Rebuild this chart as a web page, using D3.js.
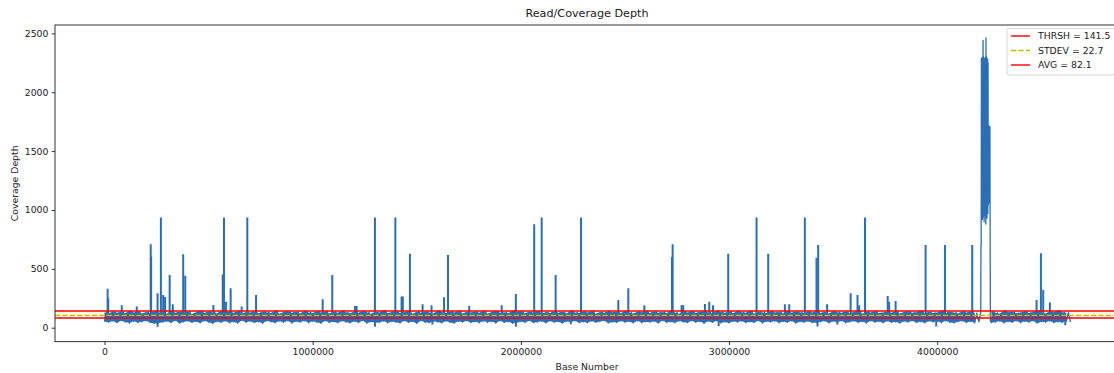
<!DOCTYPE html>
<html>
<head>
<meta charset="utf-8">
<script src="https://cdn.jsdelivr.net/npm/d3@7"></script>
<style>
  html, body { margin: 0; padding: 0; background: #fff; }
  svg { display: block; }
  text { font-family: "DejaVu Sans", sans-serif; fill: #222; }
</style>
</head>
<body>
<svg id="chart" width="1114" height="373"></svg>
<script>
// ---------------- DATA ----------------
const chartTitle = "Read/Coverage Depth";
const xLabel = "Base Number";
const yLabel = "Coverage Depth";

// background coverage, one reading every 10 kb (alternating troughs / crests of the dense band)
const baseStep = 10000;
const baseDepth = [
  52,131,46,118,57,140,41,126,60,135,48,122,39,143,55,129,44,137,50,120,
  58,134,43,125,36,141,40,128,47,133,54,119,42,146,61,127,38,136,49,123,
  56,139,45,117,52,132,40,144,59,124,47,138,35,129,53,121,44,147,57,130,
  41,136,50,126,38,142,62,119,46,134,55,128,43,140,51,122,37,137,58,131,
  49,125,42,145,56,118,45,133,60,139,39,127,53,135,47,121,58,143,41,130,
  54,124,46,138,37,129,59,142,44,120,51,136,42,127,57,144,48,131,40,123,
  55,137,43,126,61,141,38,132,50,119,42,135,45,128,56,146,41,122,52,134,
  47,139,39,125,58,131,44,143,53,118,36,136,60,127,46,140,42,129,55,121,
  49,145,40,133,57,124,45,138,38,130,54,142,47,120,59,135,43,128,51,137,
  41,126,56,144,46,119,52,134,39,141,58,127,44,132,50,123,37,146,43,131,
  53,139,45,122,60,136,42,129,48,143,55,118,40,133,57,125,46,140,51,127,
  38,135,54,121,47,145,59,130,43,124,50,138,41,128,56,142,45,119,52,134,
  60,126,39,141,49,132,44,137,57,123,46,144,53,129,40,120,58,136,42,131,
  51,143,47,125,55,139,38,127,61,134,44,122,50,146,41,130,56,118,48,137,
  43,128,59,141,46,124,52,135,37,140,55,129,45,121,58,144,40,133,49,126,
  40,138,54,123,47,142,57,131,42,127,50,145,44,119,60,136,39,130,53,124,
  48,141,56,128,41,134,52,120,45,143,58,126,38,137,51,132,46,122,55,139,
  43,129,44,146,50,125,57,135,40,121,54,140,47,131,59,127,42,138,49,123,
  56,133,44,144,52,119,39,136,58,128,46,141,53,124,41,130,57,137,45,126,
  50,142,38,120,55,134,47,139,60,127,43,131,52,145,40,122,56,136,48,125,
  54,129,42,143,58,125,46,135,39,130,51,121,57,140,44,128,53,137,41,124,
  49,138,55,127,60,133,43,141,48,126,56,119,40,144,52,131,45,136,58,123,
  42,129,54,139,47,125,59,134,38,142,51,128,46,120,57,137,43,131,50,145,
  44,132,55,127,48
];

// isolated high-coverage peaks
const spikePos = [
  15000, 18000, 83000, 155000, 222000, 224000, 255000, 271000, 282000, 291000,
  313000, 328000, 378000, 388000, 523000, 568000, 574000, 584000, 606000, 659000,
  686000, 728000, 1048000, 1094000, 1203000, 1211000, 1299000, 1397000, 1427000, 1433000,
  1467000, 1528000, 1571000, 1631000, 1650000, 1752000, 1908000, 1976000, 2064000, 2100000,
  2167000, 2289000, 2468000, 2516000, 2593000, 2726000, 2729000, 2772000, 2780000, 2884000,
  2905000, 2923000, 2996000, 3132000, 3188000, 3268000, 3289000, 3364000, 3420000, 3428000,
  3471000, 3584000, 3617000, 3625000, 3653000, 3762000, 3769000, 3800000, 3944000, 4037000,
  4168000, 4477000, 4498000, 4509000, 4541000
];
const spikeDepth = [
  330, 250, 190, 180, 709, 604, 292, 935, 278, 260,
  448, 199, 624, 442, 193, 454, 935, 221, 335, 180,
  935, 278, 241, 448, 185, 185, 935, 935, 264, 264,
  627, 199, 190, 259, 618, 187, 190, 287, 879, 935,
  448, 935, 235, 335, 190, 600, 709, 193, 190, 201,
  221, 190, 627, 935, 627, 200, 200, 935, 595, 703,
  200, 292, 278, 190, 935, 270, 221, 227, 703, 703,
  703, 235, 632, 320, 213
];

// isolated low-coverage dips
const dipPos = [255000, 1299000, 1976000, 2950000, 3425000, 3995000, 4615000, 1575000, 2240000, 3520000];
const dipDepth = [8, 8, 8, 15, 10, 10, 20, 28, 30, 27];

// amplified region near 4.2 Mb
const blockPos = [
  4209000, 4210000, 4211000, 4212000, 4213000, 4214000, 4215000, 4216000, 4217000, 4218000,
  4219000, 4220000, 4221000, 4222000, 4223000, 4224000, 4225000, 4226000, 4227000, 4228000,
  4229000, 4230000, 4231000, 4232000, 4233000, 4234000, 4235000, 4236000, 4237000, 4238000,
  4239000, 4240000, 4241000, 4242000, 4243000, 4244000, 4245000, 4246000, 4247000, 4248000,
  4249000, 4250000, 4251000, 4252000, 4253000, 4255000
];
const blockDepth = [
  130, 703, 703, 2290, 960, 2280, 1010, 2285, 920, 2300,
  980, 2440, 1000, 2300, 940, 2290, 900, 2280, 990, 2270,
  950, 2290, 1020, 2300, 880, 2461, 1050, 2300, 960, 2290,
  930, 2260, 1000, 2280, 970, 2250, 1040, 1709, 1100, 1709,
  1060, 1700, 1120, 1709, 1709, 60
];

// reference lines
const refLabels = ["THRSH = 141.5", "STDEV = 22.7", "AVG = 82.1"];
const thrsh = 141.5, stdev = 22.7, avg = 82.1;

const xTicks = [0, 1000000, 2000000, 3000000, 4000000];
const yTicks = [0, 500, 1000, 1500, 2000, 2500];

// ---------------- LAYOUT ----------------
const W = 1114, H = 373;
const plot = { left: 55, right: 1119, top: 25, bottom: 341.7 };
const blue = "#2a6fb6";
const svg = d3.select("#chart");
svg.append("rect").attr("width", W).attr("height", H).attr("fill", "#fff");

const x = d3.scaleLinear().domain([-237700, 4873000]).range([plot.left, plot.right]);
const y = d3.scaleLinear().domain([-119, 2571]).range([plot.bottom, plot.top]);

const blockStart = 4205000, blockEnd = 4258000;
const inBlock = p => p >= blockStart && p <= blockEnd;

const points = baseDepth
  .map((d, i) => ({ x: i * baseStep, y: d }))
  .filter(p => !inBlock(p.x))
  .concat(blockPos.map((p, i) => ({ x: p, y: blockDepth[i] })))
  .sort((a, b) => a.x - b.x);

// envelope of the dense band: trough/crest pairs
const envelope = d3.range(0, baseDepth.length - 1, 2).map(i => ({
  x: i * baseStep, lo: baseDepth[i], hi: baseDepth[i + 1]
}));

svg.append("defs").append("clipPath").attr("id", "clip")
  .append("rect").attr("x", plot.left).attr("y", plot.top)
  .attr("width", plot.right - plot.left).attr("height", plot.bottom - plot.top);

const g = svg.append("g").attr("clip-path", "url(#clip)");

// faint band between AVG and THRSH
g.append("rect")
  .attr("x", plot.left).attr("width", plot.right - plot.left)
  .attr("y", y(thrsh)).attr("height", y(avg) - y(thrsh))
  .attr("fill", "rgba(240,240,170,0.35)");

g.append("path")
  .datum(envelope)
  .attr("fill", blue)
  .attr("d", d3.area().defined(d => !inBlock(d.x) && !inBlock(d.x + baseStep))
    .x(d => x(d.x)).y0(d => y(d.lo)).y1(d => y(d.hi)));

g.append("path")
  .datum(points)
  .attr("fill", "none")
  .attr("stroke", blue)
  .attr("stroke-width", 1.3)
  .attr("stroke-linejoin", "round")
  .attr("d", d3.line().x(d => x(d.x)).y(d => y(d.y)));

g.selectAll("line.spike")
  .data(spikePos.map((p, i) => ({ x: p, y: spikeDepth[i] }))
    .concat(dipPos.map((p, i) => ({ x: p, y: dipDepth[i] }))))
  .join("line")
  .attr("class", "spike")
  .attr("x1", d => x(d.x)).attr("x2", d => x(d.x))
  .attr("y1", y(avg)).attr("y2", d => y(d.y))
  .attr("stroke", blue).attr("stroke-width", 2);

function hline(v, color, dash) {
  g.append("line")
    .attr("x1", plot.left).attr("x2", plot.right)
    .attr("y1", y(v)).attr("y2", y(v))
    .attr("stroke", color).attr("stroke-width", 1.4)
    .attr("stroke-dasharray", dash || null);
}
hline(thrsh, "#ff0000");
hline(avg + stdev, "#bfbf00", "5.2,2.2");
hline(avg, "#ff0000");

// ---------------- AXES ----------------
const xAxis = d3.axisBottom(x).tickValues(xTicks).tickFormat(d3.format("d")).tickSize(3.3).tickPadding(3.5);
const yAxis = d3.axisLeft(y).tickValues(yTicks).tickFormat(d3.format("d")).tickSize(3.3).tickPadding(3.3);

const gx = svg.append("g").attr("transform", `translate(0,${plot.bottom})`).call(xAxis);
const gy = svg.append("g").attr("transform", `translate(${plot.left},0)`).call(yAxis);
[gx, gy].forEach(a => {
  a.select(".domain").remove();
  a.selectAll(".tick line").attr("stroke", "#000").attr("stroke-width", 0.8);
  a.selectAll(".tick text").attr("font-size", "9.3px").attr("font-family", "DejaVu Sans").attr("fill", "#222");
});

// spines
svg.append("rect")
  .attr("x", plot.left).attr("y", plot.top)
  .attr("width", plot.right - plot.left).attr("height", plot.bottom - plot.top)
  .attr("fill", "none").attr("stroke", "#000").attr("stroke-width", 0.8);

// labels
svg.append("text").attr("x", (plot.left + plot.right) / 2).attr("y", 16.8)
  .attr("text-anchor", "middle").attr("font-size", "11.2px").text(chartTitle);
svg.append("text").attr("x", (plot.left + plot.right) / 2).attr("y", 370)
  .attr("text-anchor", "middle").attr("font-size", "9.3px").text(xLabel);
svg.append("text")
  .attr("transform", `translate(18,${(plot.top + plot.bottom) / 2}) rotate(-90)`)
  .attr("text-anchor", "middle").attr("font-size", "9.3px").text(yLabel);

// ---------------- LEGEND ----------------
const lg = svg.append("g");
lg.append("rect").attr("x", 1007).attr("y", 28.5).attr("width", 108).attr("height", 46.5)
  .attr("rx", 2).attr("fill", "rgba(255,255,255,0.8)").attr("stroke", "#ccc").attr("stroke-width", 0.8);
const legColors = ["#ff0000", "#bfbf00", "#ff0000"];
const legDash = [null, "5.2,2.2", null];
refLabels.forEach((t, i) => {
  const yy = 36 + i * 14.5;
  lg.append("line").attr("x1", 1011).attr("x2", 1030).attr("y1", yy).attr("y2", yy)
    .attr("stroke", legColors[i]).attr("stroke-width", 1.4).attr("stroke-dasharray", legDash[i]);
  lg.append("text").attr("x", 1038).attr("y", yy + 3.4).attr("font-size", "9.3px").text(t);
});
</script>
</body>
</html>
